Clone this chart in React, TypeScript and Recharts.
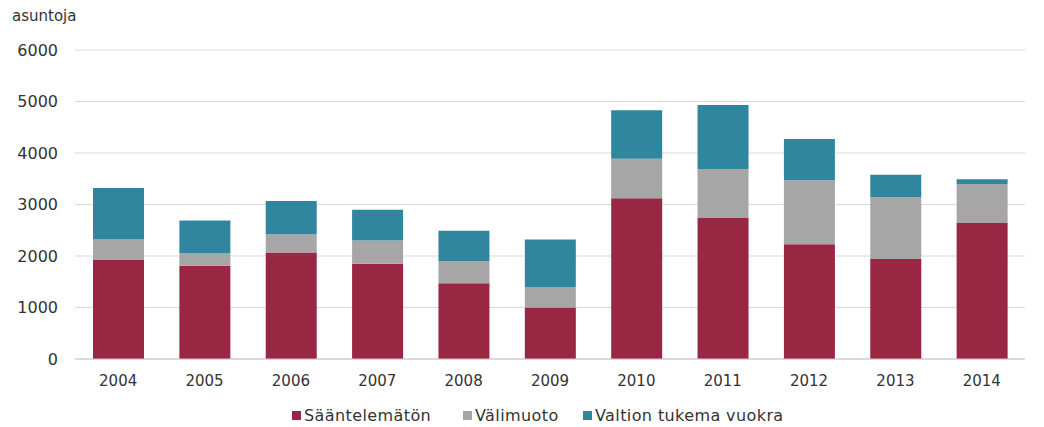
import * as React from "react";
import { BarChart, Bar, XAxis, YAxis, CartesianGrid } from "recharts";

const YEARS = ["2004", "2005", "2006", "2007", "2008", "2009", "2010", "2011", "2012", "2013", "2014"];
const SAANTELEMATON = [1930, 1810, 2070, 1850, 1470, 1000, 3120, 2750, 2230, 1940, 2640];
const VALIMUOTO = [390, 250, 350, 450, 430, 400, 770, 940, 1240, 1200, 760];
const VALTION = [1000, 630, 650, 600, 590, 920, 940, 1240, 800, 440, 90];
const Y_TICKS = [0, 1000, 2000, 3000, 4000, 5000, 6000];

const SERIES = [
  { key: "s", name: "Sääntelemätön", color: "#992643", left: 292 },
  { key: "v", name: "Välimuoto", color: "#a6a6a6", left: 463 },
  { key: "t", name: "Valtion tukema vuokra", color: "#31869f", left: 583 },
];

const FONT = "'DejaVu Sans', sans-serif";

function LegendBox() {
  return (
    <>
      {SERIES.map((s) => (
        <div
          key={s.key}
          style={{
            position: "absolute",
            left: s.left,
            top: 405,
            height: 20,
            display: "flex",
            alignItems: "center",
            fontFamily: FONT,
            fontSize: 16,
            letterSpacing: 0.4,
            color: "#333",
            whiteSpace: "nowrap",
          }}
        >
          <span style={{ width: 9, height: 9, background: s.color, marginRight: 3, display: "inline-block" }} />
          {s.name}
        </div>
      ))}
    </>
  );
}

export default function App() {
  const rows = React.useMemo(
    () => YEARS.map((y, i) => ({ year: y, s: SAANTELEMATON[i], v: VALIMUOTO[i], t: VALTION[i] })),
    []
  );

  return (
    <div style={{ position: "absolute", left: 0, top: 0, width: 1044, height: 427, background: "#fff" }}>
      <div
        style={{
          position: "absolute",
          left: 12,
          top: 7,
          fontFamily: FONT,
          fontSize: 15,
          color: "#333",
        }}
      >
        asuntoja
      </div>
      <BarChart width={1044} height={427} data={rows} margin={{ top: 50, right: 19, bottom: 38, left: 0 }}>
        <CartesianGrid stroke="#d9d9d9" vertical={false} />
        <XAxis
          dataKey="year"
          height={30}
          axisLine={{ stroke: "#c8c8c8" }}
          tickLine={false}
          tickSize={0}
          tickMargin={16}
          tick={{ fill: "#333", fontSize: 15, fontFamily: FONT }}
        />
        <YAxis
          width={75}
          domain={[0, 6000]}
          ticks={Y_TICKS}
          axisLine={false}
          tickLine={false}
          tickSize={0}
          tickMargin={17}
          tick={{ fill: "#333", fontSize: 16, fontFamily: FONT }}
        />
        {SERIES.map((s) => (
          <Bar key={s.key} dataKey={s.key} name={s.name} stackId="a" fill={s.color} barSize={51} isAnimationActive={false} />
        ))}
      </BarChart>
      <LegendBox />
    </div>
  );
}
